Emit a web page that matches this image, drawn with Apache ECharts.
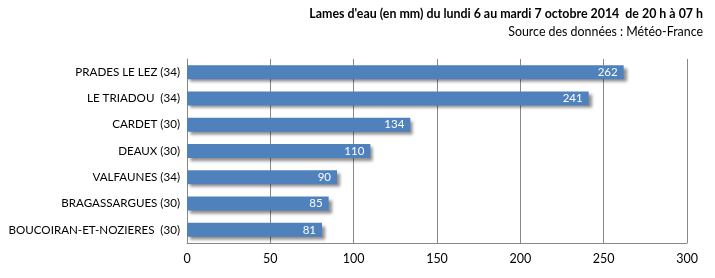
<!DOCTYPE html>
<html><head><meta charset="utf-8">
<script src="https://cdn.jsdelivr.net/npm/echarts@6/dist/echarts.min.js"></script>
<style>html,body{margin:0;padding:0;background:#fff}#c{width:715px;height:278px}</style>
</head><body><div id="c"></div>
<script>
const categories = ["PRADES LE LEZ (34)", "LE TRIADOU  (34)", "CARDET (30)", "DEAUX (30)", "VALFAUNES (34)", "BRAGASSARGUES (30)", "BOUCOIRAN-ET-NOZIERES  (30)"];
const values = [262, 241, 134, 110, 90, 85, 81];
const titleText = "Lames d'eau (en mm) du lundi 6 au mardi 7 octobre 2014  de 20 h à 07 h";
const subText = "Source des données : Météo-France";
const FONT = "Lato";
const chart = echarts.init(document.getElementById('c'), null, {renderer: 'canvas'});
chart.setOption({
  animation: false,
  title: [
    {text: titleText, right: 7, top: 3, textStyle: {fontFamily: FONT, fontSize: 12.4, fontWeight: 'bold', color: '#000'}},
    {text: subText, right: 7, top: 21, textStyle: {fontFamily: FONT, fontSize: 12.4, fontWeight: 'normal', color: '#000'}}
  ],
  grid: {left: 187, right: 28, top: 59, bottom: 35, containLabel: false, outerBoundsMode: 'none'},
  xAxis: {
    type: 'value', min: 0, max: 300, interval: 50,
    axisLine: {show: true, lineStyle: {color: '#888'}},
    axisTick: {show: false},
    splitLine: {show: true, lineStyle: {color: '#888', width: 1}},
    axisLabel: {fontFamily: FONT, fontSize: 12.5, color: '#000', margin: 9}
  },
  yAxis: {
    type: 'category', data: categories, inverse: true,
    axisLine: {show: true, lineStyle: {color: '#888'}},
    axisTick: {show: false},
    axisLabel: {fontFamily: FONT, fontSize: 11.6, color: '#000', margin: 7}
  },
  series: [{
    type: 'bar', data: values, barWidth: 14,
    itemStyle: {color: '#4f81bd', shadowColor: 'rgba(0,0,0,0.45)', shadowBlur: 3, shadowOffsetX: 3, shadowOffsetY: 3},
    label: {show: true, position: 'insideRight', color: '#fff', fontFamily: FONT, fontSize: 11.5, distance: 6}
  }]
});
</script></body></html>
